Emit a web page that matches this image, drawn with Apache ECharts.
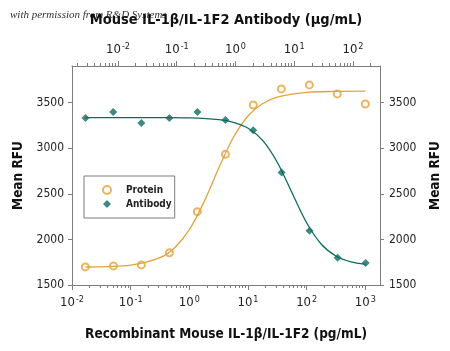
<!DOCTYPE html>
<html>
<head>
<meta charset="utf-8">
<script src="https://cdn.jsdelivr.net/npm/echarts@6/dist/echarts.min.js"></script>
<style>
  html, body { margin: 0; padding: 0; background: #fff; }
  #chart { width: 450px; height: 351px; }
</style>
</head>
<body>
<div id="chart"></div>
<script>
// protein points (pg/mL) and readings
const proteinConc = [0.0169, 0.0508, 0.152, 0.457, 1.37, 4.12, 12.3, 37.0, 111, 333, 1000];
const proteinRFU = [1698, 1709, 1720, 1853, 2304, 2933, 3473, 3649, 3693, 3594, 3484];
// antibody points (ug/mL, top axis)
const antibodyConc = [0.0028, 0.0083, 0.025, 0.075, 0.225, 0.675, 2.0, 6.1, 18.2, 54.7, 164];
const antibodyRFU = [3329, 3395, 3274, 3329, 3395, 3307, 3197, 2734, 2095, 1798, 1742];

// fitted curves
const proteinFitX = [0.017, 0.1, 0.316, 0.562, 1, 1.78, 3.16, 5.62, 10, 17.8, 31.6, 100, 316, 1000];
const proteinFitY = [1697, 1718, 1799, 1909, 2106, 2411, 2779, 3116, 3352, 3489, 3560, 3611, 3622, 3625];
const antibodyFitX = [0.0028, 0.0164, 0.0519, 0.164, 0.519, 0.923, 1.64, 2.92, 5.19, 9.23, 16.4, 29.2, 51.9, 92.3, 164];
const antibodyFitY = [3335, 3335, 3334, 3331, 3313, 3283, 3218, 3082, 2840, 2506, 2177, 1944, 1815, 1753, 1726];

const bottomMajor = [0.01, 0.1, 1, 10, 100, 1000];
const topMajor = [0.01, 0.1, 1, 10, 100];

const orange = '#e3a33c';
const teal = '#0f6b60';
const axisGray = '#7d7d7d';
const narrow = "'Liberation Sans Narrow', 'DejaVu Sans Condensed', sans-serif";

function minorTicks(lo, hi) {
  let out = [];
  for (let e = lo; e <= hi; e++) {
    for (let m = 2; m <= 9; m++) out.push(+(m * Math.pow(10, e)).toPrecision(3));
  }
  return out;
}

function powLabel(v) {
  let e = Math.round(Math.log10(v));
  return '{b|10}{s|' + e + '}';
}

const labelRich = {
  b: { fontSize: 13, fontFamily: narrow, color: '#222' },
  s: { fontSize: 9, fontFamily: narrow, color: '#222', verticalAlign: 'top', padding: [0, 0, 7, 1] }
};

let chart = echarts.init(document.getElementById('chart'));

let pairs = (xs, ys) => xs.map((x, i) => [x, ys[i]]);

let nameStyle = size => ({ fontFamily: narrow, fontWeight: 'bold', fontSize: size, color: '#111' });

let option = {
  animation: false,
  grid: { left: 72, right: 70, top: 66, bottom: 66, outerBoundsMode: 'none', containLabel: false },
  graphic: [{
    type: 'text', left: 10, top: 10, z: -1,
    style: { text: 'with permission from R&D Systems', font: 'italic 11px "Liberation Serif", serif', fill: '#333' }
  }],
  legend: {
    left: 84, top: 176,
    orient: 'vertical',
    borderColor: axisGray, borderWidth: 1,
    padding: [9, 3, 9, 18],
    itemGap: 4,
    itemWidth: 8, itemHeight: 8,
    textStyle: { fontFamily: narrow, fontWeight: 'bold', fontSize: 10, color: '#222', padding: [0, 0, 0, 10] },
    data: [
      { name: 'Protein', icon: 'emptyCircle' },
      { name: 'Antibody', icon: 'diamond' }
    ]
  },
  xAxis: [
    {
      type: 'log', position: 'bottom', min: 0.01, max: 1778,
      name: 'Recombinant Mouse IL-1β/IL-1F2 (pg/mL)',
      nameLocation: 'middle', nameGap: 42, nameTextStyle: nameStyle(13.5),
      axisLine: { lineStyle: { color: axisGray } },
      axisTick: { show: true, customValues: bottomMajor, length: 5, lineStyle: { color: axisGray } },
      axisLabel: { customValues: bottomMajor, formatter: powLabel, rich: labelRich, margin: 10 },
      splitLine: { show: false }
    },
    {
      type: 'log', position: 'top', min: 0.00165, max: 288,
      name: 'Mouse IL-1β/IL-1F2 Antibody (µg/mL)',
      nameLocation: 'middle', nameGap: 38, nameTextStyle: nameStyle(14.5),
      axisLine: { lineStyle: { color: axisGray } },
      axisTick: { show: true, customValues: topMajor, length: 5, lineStyle: { color: axisGray } },
      axisLabel: { customValues: topMajor, formatter: powLabel, rich: labelRich, margin: 8 },
      splitLine: { show: false }
    },
    {
      type: 'log', position: 'bottom', min: 0.01, max: 1778,
      axisLine: { show: false },
      axisTick: { show: true, customValues: minorTicks(-2, 3), length: 3, lineStyle: { color: axisGray } },
      axisLabel: { show: false },
      splitLine: { show: false }
    },
    {
      type: 'log', position: 'top', min: 0.00165, max: 288,
      axisLine: { show: false },
      axisTick: { show: true, customValues: minorTicks(-3, 2), length: 3, lineStyle: { color: axisGray } },
      axisLabel: { show: false },
      splitLine: { show: false }
    }
  ],
  yAxis: [
    {
      type: 'value', position: 'left', min: 1500, max: 3900, interval: 500,
      name: 'Mean RFU', nameLocation: 'middle', nameGap: 46, nameRotate: 90, nameTextStyle: nameStyle(13.5),
      axisLine: { show: true, lineStyle: { color: axisGray } },
      axisTick: { show: true, length: 4, lineStyle: { color: axisGray } },
      axisLabel: { showMaxLabel: false, formatter: v => String(v), fontFamily: narrow, fontSize: 12, color: '#222', margin: 8 },
      splitLine: { show: false }
    },
    {
      type: 'value', position: 'right', min: 1500, max: 3900, interval: 500,
      name: 'Mean RFU', nameLocation: 'middle', nameGap: 48, nameRotate: 90, nameTextStyle: nameStyle(13.5),
      axisLine: { show: true, lineStyle: { color: axisGray } },
      axisTick: { show: true, length: 4, lineStyle: { color: axisGray } },
      axisLabel: { showMaxLabel: false, formatter: v => String(v), fontFamily: narrow, fontSize: 12, color: '#222', margin: 9 },
      splitLine: { show: false }
    }
  ],
  series: [
    {
      type: 'line', name: 'Protein fit', xAxisIndex: 0, yAxisIndex: 0,
      data: pairs(proteinFitX, proteinFitY), smooth: 0.3, showSymbol: false, silent: true,
      lineStyle: { color: orange, width: 1.3 }
    },
    {
      type: 'line', name: 'Antibody fit', xAxisIndex: 1, yAxisIndex: 0,
      data: pairs(antibodyFitX, antibodyFitY), smooth: 0.3, showSymbol: false, silent: true,
      lineStyle: { color: teal, width: 1.3 }
    },
    {
      type: 'scatter', name: 'Protein', xAxisIndex: 0, yAxisIndex: 0,
      data: pairs(proteinConc, proteinRFU),
      symbol: 'emptyCircle', symbolSize: 7,
      itemStyle: { color: orange, borderColor: orange, borderWidth: 1 }
    },
    {
      type: 'scatter', name: 'Antibody', xAxisIndex: 1, yAxisIndex: 0,
      data: pairs(antibodyConc, antibodyRFU),
      symbol: 'diamond', symbolSize: 8,
      itemStyle: { color: teal }
    }
  ]
};

chart.setOption(option);
</script>
</body>
</html>
